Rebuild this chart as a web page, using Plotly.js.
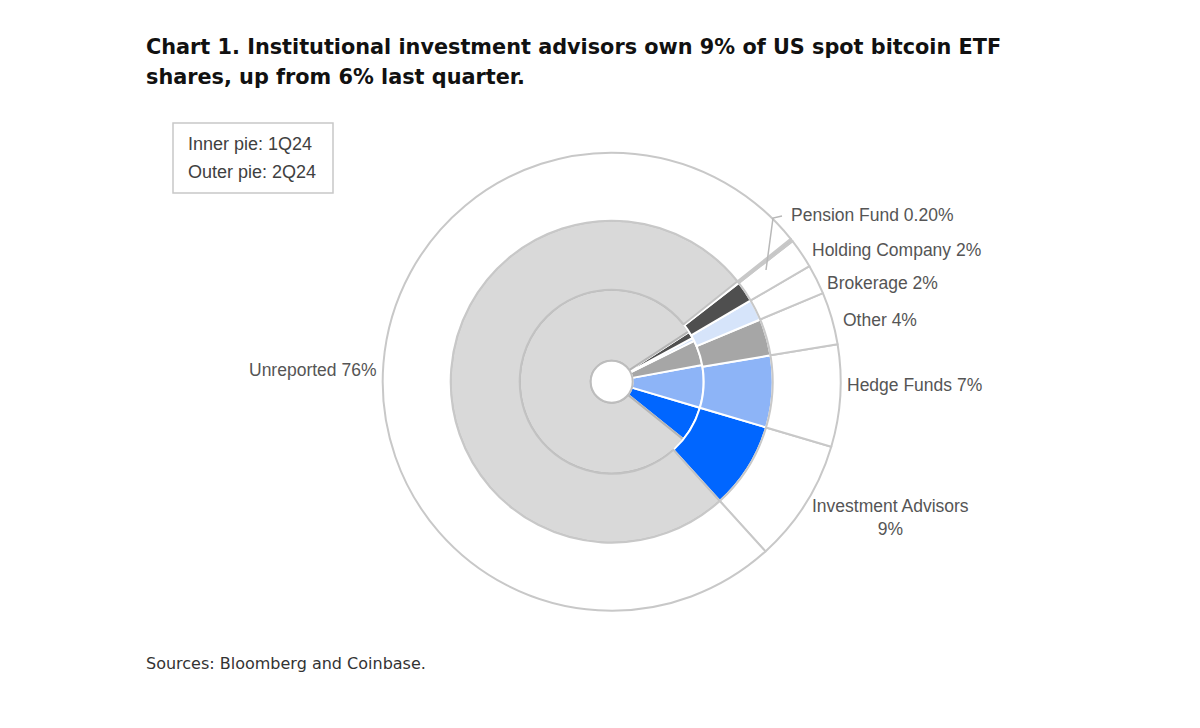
<!DOCTYPE html>
<html>
<head>
<meta charset="utf-8">
<script src="https://cdn.plot.ly/plotly-3.0.1.min.js"></script>
<style>
  html, body { margin: 0; padding: 0; background: #ffffff; }
  #chart { width: 1200px; height: 728px; }
</style>
</head>
<body>
<div id="chart"></div>
<script>
// 数据
const categories = ['Investment Advisors', 'Hedge Funds', 'Other', 'Brokerage', 'Holding Company', 'Pension Fund', 'Unreported'];
const share1Q24 = [6.2, 7.5, 4.4, 0.6, 1.2, 0.1, 80.0];   // 内圈
const share2Q24 = [8.7, 7.2, 3.7, 2.1, 2.1, 0.2, 76.0];   // 外圈
const labelPct2Q24 = ['9%', '7%', '4%', '2%', '2%', '0.20%', '76%'];
const pieNotes = ['Inner pie: 1Q24', 'Outer pie: 2Q24'];

// 样式
const sliceColors = ['#0066FF', '#8DB4F7', '#A6A6A6', '#D6E4FA', '#4F4F4F', '#B8B8B8', '#D9D9D9'];
const W = 1200, H = 728;
const CX = 611.7, CY = 381.7;
const R_HOLE = 21, R_INNER = 92, R_MID = 161, R_OUTER = 229;
const ROT = 106.5;
const labelFont = { family: 'Liberation Sans, Arial, sans-serif', size: 17.5, color: '#555555' };

// 像素 -> paper 坐标
const px = x => x / W;
const py = y => 1 - y / H;

function ringDomain(r) {
    return { x: [px(CX - r), px(CX + r)], y: [py(CY + r), py(CY - r)] };
}

function ringTrace(values, colors, lineColors, rOuter, rInner) {
    return {
        type: 'pie',
        labels: categories,
        values: values,
        sort: false,
        direction: 'counterclockwise',
        rotation: ROT,
        hole: rInner / rOuter,
        domain: ringDomain(rOuter),
        marker: { colors: colors, line: { color: lineColors, width: 2 } },
        textinfo: 'none',
        hoverinfo: 'label+percent'
    };
}

const innerLines = categories.map(c => c === 'Unreported' ? '#B4B4B4' : '#FFFFFF');
const midLines = categories.map(c => c === 'Unreported' ? '#C2C2C2' : '#FFFFFF');
const outerColors = categories.map(c => c === 'Pension Fund' ? '#C4C4C4' : '#FFFFFF');

const data = [
    ringTrace(share1Q24, sliceColors, innerLines, R_INNER, R_HOLE),
    ringTrace(share2Q24, sliceColors, midLines, R_MID, R_INNER),
    ringTrace(share2Q24, outerColors, '#C8C8C8', R_OUTER, R_MID),
    {
        type: 'pie',
        labels: ['hole'],
        values: [1],
        sort: false,
        domain: ringDomain(R_HOLE),
        marker: { colors: ['#FFFFFF'], line: { color: '#BDBDBD', width: 2 } },
        textinfo: 'none',
        hoverinfo: 'skip'
    }
];

// 标签位置（像素）
const labelPlacement = [
    { x: 890, y: 517, xanchor: 'center', wrap: true },
    { x: 845, y: 385, xanchor: 'left' },
    { x: 841, y: 320, xanchor: 'left' },
    { x: 825, y: 283, xanchor: 'left' },
    { x: 810, y: 250, xanchor: 'left' },
    { x: 789, y: 215, xanchor: 'left' },
    { x: 247, y: 370, xanchor: 'left' }
];

const annotations = categories.map((c, i) => {
    const p = labelPlacement[i];
    return {
        xref: 'paper', yref: 'paper',
        x: px(p.x), y: py(p.y),
        xanchor: p.xanchor, yanchor: 'middle',
        text: c + (p.wrap ? '<br>' : ' ') + labelPct2Q24[i],
        showarrow: false,
        align: 'center',
        font: labelFont
    };
});

// 标题
const titleLines = [
    'Chart 1. Institutional investment advisors own 9% of US spot bitcoin ETF',
    'shares, up from 6% last quarter.'
];
titleLines.forEach((t, i) => {
    annotations.push({
        xref: 'paper', yref: 'paper',
        x: px(144), y: py(47 + i * 30),
        xanchor: 'left', yanchor: 'middle',
        text: '<b>' + t + '</b>',
        showarrow: false,
        font: { family: 'DejaVu Sans, Verdana, sans-serif', size: 20.8, color: '#111111' }
    });
});

// 说明框文字
pieNotes.forEach((t, i) => {
    annotations.push({
        xref: 'paper', yref: 'paper',
        x: px(186), y: py(144 + i * 28),
        xanchor: 'left', yanchor: 'middle',
        text: t,
        showarrow: false,
        font: { family: 'Liberation Sans, Arial, sans-serif', size: 18, color: '#404040' }
    });
});

annotations.push({
    xref: 'paper', yref: 'paper',
    x: px(144), y: py(663),
    xanchor: 'left', yanchor: 'middle',
    text: 'Sources: Bloomberg and Coinbase.',
    showarrow: false,
    font: { family: 'DejaVu Sans, Verdana, sans-serif', size: 16, color: '#333333' }
});

const shapes = [
    {
        type: 'rect', xref: 'paper', yref: 'paper',
        x0: px(173), x1: px(333), y0: py(193), y1: py(123),
        line: { color: '#C8C8C8', width: 1.5 }, fillcolor: 'rgba(0,0,0,0)'
    },
    {
        // Pension Fund 引线
        type: 'path', xref: 'paper', yref: 'paper',
        path: 'M ' + px(766) + ' ' + py(270) + ' L ' + px(773) + ' ' + py(218) + ' L ' + px(782) + ' ' + py(216),
        line: { color: '#B8B8B8', width: 1.5 }
    }
];

const layout = {
    width: W,
    height: H,
    margin: { l: 0, r: 0, t: 0, b: 0 },
    paper_bgcolor: '#ffffff',
    plot_bgcolor: '#ffffff',
    showlegend: false,
    annotations: annotations,
    shapes: shapes
};

Plotly.newPlot('chart', data, layout, { displayModeBar: false, responsive: false });
</script>
</body>
</html>
